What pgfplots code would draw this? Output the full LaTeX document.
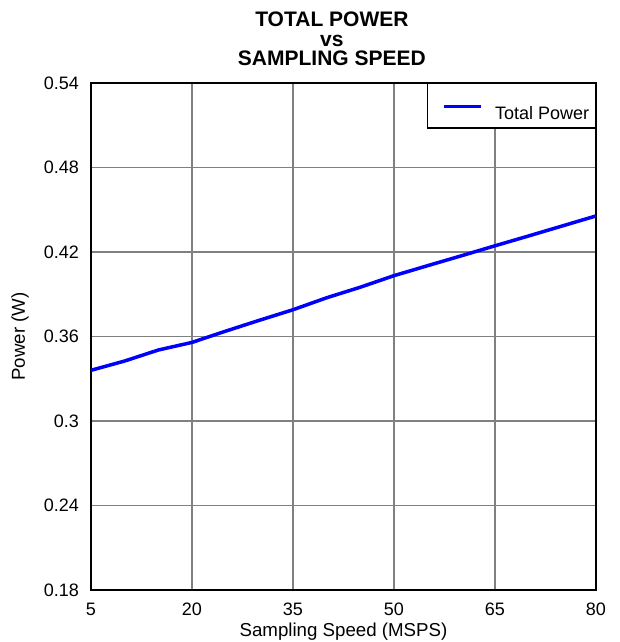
\documentclass[border=0pt]{standalone}
\usepackage{fontspec}
\setmainfont{Liberation Sans}
\usepackage{pgfplots}
\pgfplotsset{compat=1.18}
\begin{document}
\begin{tikzpicture}
\path[use as bounding box] (-91pt,-52pt) rectangle (528pt,590pt);
\begin{axis}[
  scale only axis, width=505pt, height=507pt,
  at={(0pt,0pt)}, anchor=south west,
  xmin=5, xmax=80, ymin=0.18, ymax=0.54,
  xtick={5,20,35,50,65,80},
  xticklabels={5,20,35,50,65,80},
  ytick={0.18,0.24,0.30,0.36,0.42,0.48,0.54},
  yticklabels={0.18,0.24,0.3,0.36,0.42,0.48,0.54},
  /pgf/number format/assume math mode=true,
  grid=major,
  major grid style={line width=1.2pt, color=black!50},
  axis line style={line width=2.5pt, black},
  major tick length=0pt,
  tick style={draw=none},
  ticklabel style={font=\fontsize{18}{18}\selectfont},
  xticklabel style={anchor=north, inner sep=0pt, yshift=-13pt},
  yticklabel style={anchor=east, inner sep=0pt, xshift=-12pt},
  xlabel={Sampling Speed (MSPS)},
  ylabel={Power (W)},
  xlabel style={at={(axis description cs:0.5,-0.0927)}, anchor=base, inner sep=0pt, font=\fontsize{18.7}{19}\selectfont},
  ylabel style={at={(axis description cs:-0.1406,0.5)}, anchor=center, inner sep=0pt, font=\fontsize{18.7}{19}\selectfont},
  title={TOTAL POWER\\vs\\SAMPLING SPEED},
  title style={at={(axis description cs:0.477,1.0214)}, anchor=south, inner sep=0pt, align=center, font=\bfseries\fontsize{21}{19.5}\selectfont},
  legend style={at={(1,1)}, anchor=north east, draw=black, line width=1.5pt, fill=white,
    inner xsep=0pt, inner ysep=0pt, nodes={inner sep=0pt, text depth=0pt},
    font=\fontsize{18}{18}\selectfont},
  legend image code/.code={\draw[#1] (0pt,6.5pt) -- (37pt,6.5pt); \path[draw=none] (-16pt,-15.1pt) rectangle (51.7pt,29.2pt);},
]
\addplot[color={rgb,255:red,0;green,0;blue,255}, line width=3.5pt] coordinates {
  (5,0.3360) (10,0.3426) (15,0.3504) (20,0.3558) (25,0.3638) (30,0.3715)
  (35,0.3790) (40,0.3875) (45,0.3950) (50,0.4032) (55,0.4103) (60,0.4173)
  (65,0.4244) (70,0.4314) (75,0.4385) (80,0.4456)
};
\addlegendentry{Total Power\kern6pt}
\end{axis}
\end{tikzpicture}
\end{document}
